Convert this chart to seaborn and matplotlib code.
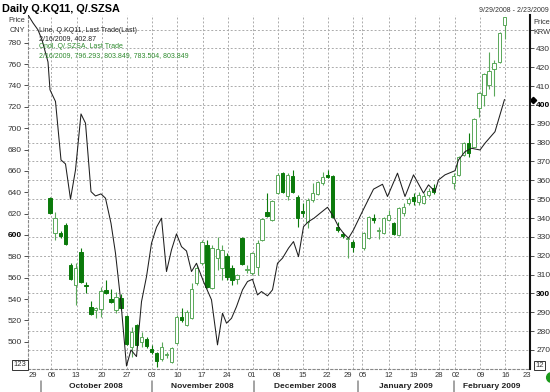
import matplotlib
matplotlib.use("Agg")
import matplotlib.pyplot as plt
import matplotlib.transforms as mtrans
from matplotlib.lines import Line2D
import numpy as np
import pandas as pd
import seaborn as sns

# ---------------- data ----------------
# x = trading-day index on the chart's time axis (0 = 29 Sep 2008)
# Q.KQ11 line (right axis, KRW)
line_day = [-1, 0.4, 1.4, 2.2, 3.4, 3.8, 4.9, 6.0, 6.9, 7.9, 8.9, 10.0, 10.9, 12.0, 12.9,
            14.0, 14.9, 16.0, 16.9, 18.0, 19.1, 20.0, 21.1, 22.1, 23.1, 24.1, 25.1, 26.1,
            27.1, 28.1, 29.1, 30.1, 31.1, 32.1, 33.1, 34.5, 36.1, 37.3, 38.3, 39.1, 40.1,
            41.1, 42.3, 43.3, 44.3, 45.3, 46.1, 47.3, 48.3, 49.3, 50.3, 51.5, 52.5, 53.5,
            54.5, 55.5, 56.6, 57.8, 59.3, 60.5, 61.5, 62.5, 63.5, 64.5, 66.1, 68.5, 70.3,
            71.3, 73.3, 74.8, 76.5, 78.5, 79.5, 80.8, 81.5, 82.8, 84.8, 85.5, 86.8, 88.1,
            89.8, 90.8, 92.8, 94.7]
line_val = [449.5, 443.5, 439.8, 434.5, 422.8, 408.0, 401.8, 370.8, 368.7, 350.0, 365.5,
            395.2, 390.3, 354.0, 351.7, 352.8, 350.5, 337.2, 321.3, 294.8, 261.5, 270.0,
            266.5, 295.6, 308.9, 326.6, 335.1, 339.9, 311.6, 323.1, 331.6, 324.8, 322.5,
            311.6, 316.0, 306.3, 296.6, 272.7, 289.5, 284.2, 286.8, 293.0, 301.9, 306.3,
            307.5, 299.2, 301.0, 298.7, 301.9, 316.0, 318.7, 324.0, 327.5, 319.5, 335.4,
            338.1, 339.9, 342.5, 345.7, 340.7, 335.4, 331.9, 329.3, 333.7, 342.5, 355.3,
            357.9, 351.4, 363.8, 351.4, 362.9, 353.2, 357.6, 354.0, 360.2, 362.9, 365.1,
            370.8, 375.2, 377.0, 376.1, 379.7, 385.8, 402.87]

# Q/.SZSA candles (left axis, CNY)
cndl_day = [3.8, 4.8, 5.9, 6.9, 7.9, 8.9, 10.0, 11.0, 12.0, 12.9, 14.0, 15.0, 16.0, 17.0,
            18.0, 19.1, 20.1, 21.1, 22.1, 23.1, 24.1, 25.1, 26.1, 27.1, 28.1, 29.1, 30.1,
            31.1, 32.1, 33.1, 34.2, 35.2, 36.2, 37.3, 38.2, 39.2, 40.2, 41.2, 42.2, 43.2,
            44.2, 45.3, 46.2, 47.2, 48.2, 49.3, 50.3, 51.3, 52.3, 53.3, 54.3, 55.3, 56.3,
            57.3, 58.3, 59.3, 60.3, 61.3, 62.3, 63.3, 64.3, 66.5, 67.5, 68.5, 69.5, 70.5,
            71.5, 72.5, 73.5, 74.5, 75.5, 76.5, 77.5, 78.5, 79.5, 80.5, 84.5, 85.5, 86.5,
            87.5, 88.6, 89.6, 90.6, 91.6, 92.6, 93.7, 94.7]
cndl_open = [634.4, 601.6, 602.2, 609.4, 571.9, 553.2, 584.4, 552.5, 532.9, 530.0, 530.4,
             548.5, 540.1, 529.8, 540.7, 524.2, 495.5, 515.7, 500.1, 502.3, 493.0, 489.2,
             483.6, 487.3, 481.4, 498.6, 523.5, 515.7, 522.0, 554.8, 573.5, 590.6, 550.4,
             578.2, 568.8, 580.3, 568.8, 558.5, 596.9, 567.5, 564.1, 570.3, 595.3, 621.3,
             614.0, 639.0, 657.8, 636.5, 655.2, 635.9, 622.8, 612.5, 632.8, 638.4, 648.4,
             656.5, 655.2, 607.8, 600.9, 595.8, 593.7, 587.5, 596.9, 615.5, 603.5, 601.6,
             614.0, 611.5, 600.0, 620.3, 629.7, 635.3, 631.2, 630.2, 637.5, 643.7, 648.4,
             656.2, 674.9, 685.9, 682.7, 718.6, 731.1, 740.4, 755.1, 762.3, 796.293]
cndl_high = [635.5, 621.8, 603.5, 611.0, 573.4, 573.5, 588.1, 556.3, 538.5, 532.9, 551.6,
             557.9, 549.2, 546.9, 545.0, 525.0, 514.1, 517.0, 509.5, 504.8, 497.0, 490.7,
             500.1, 490.0, 495.0, 525.0, 531.4, 529.5, 554.8, 572.0, 595.0, 595.3, 590.6,
             598.4, 590.6, 582.9, 571.9, 563.7, 597.9, 571.9, 584.0, 595.3, 615.5, 639.0,
             633.0, 657.8, 659.3, 657.8, 660.9, 637.5, 629.7, 634.4, 648.4, 650.5, 659.3,
             660.9, 656.2, 612.5, 602.5, 598.4, 595.3, 603.0, 617.6, 619.5, 607.8, 617.0,
             623.4, 612.5, 626.0, 629.5, 636.0, 639.0, 640.0, 639.0, 644.0, 648.0, 657.8,
             674.0, 687.5, 695.2, 709.5, 734.2, 752.0, 771.6, 763.9, 790.5, 803.849]
cndl_low = [620.0, 595.3, 597.0, 590.6, 557.4, 534.5, 555.3, 545.4, 525.1, 522.0, 523.5,
            544.8, 536.1, 526.7, 530.0, 497.0, 486.0, 496.0, 494.9, 494.0, 488.6, 476.7,
            482.3, 485.0, 479.7, 498.0, 518.8, 514.5, 521.1, 553.0, 572.0, 550.0, 549.0,
            567.2, 557.9, 557.9, 553.2, 553.8, 571.5, 564.1, 562.5, 562.5, 594.0, 617.1,
            613.0, 638.4, 638.9, 632.8, 639.5, 607.8, 617.1, 606.3, 631.2, 637.5, 646.8,
            653.1, 616.2, 603.1, 597.5, 578.2, 584.4, 586.0, 596.0, 611.0, 596.5, 601.0,
            614.0, 600.0, 599.0, 617.5, 628.0, 628.0, 628.0, 629.0, 636.0, 638.5, 643.0,
            655.0, 674.0, 673.3, 682.0, 710.8, 720.8, 736.4, 730.1, 761.5, 783.504]
cndl_close = [620.9, 615.6, 599.3, 591.6, 558.5, 568.8, 556.3, 552.0, 526.0, 531.4, 547.6,
              545.4, 537.0, 541.7, 531.4, 498.0, 509.5, 497.0, 504.8, 496.1, 490.4, 482.3,
              495.5, 487.9, 493.9, 523.5, 520.4, 528.2, 549.2, 568.8, 593.7, 551.6, 587.5,
              586.6, 586.0, 561.0, 557.9, 562.5, 572.8, 568.2, 582.9, 592.2, 614.7, 617.8,
              632.1, 656.2, 640.5, 656.2, 640.5, 615.6, 620.9, 632.8, 639.0, 649.9, 654.6,
              654.0, 617.1, 604.7, 599.1, 596.3, 589.0, 601.6, 616.6, 614.0, 604.2, 615.6,
              618.7, 600.9, 625.0, 626.5, 633.7, 632.1, 637.5, 636.5, 641.2, 640.5, 655.5,
              672.8, 686.4, 676.5, 708.3, 732.7, 750.7, 753.8, 761.3, 788.9, 803.849]

# axis labels
day_labels = ["29", "06", "13", "20", "27", "03", "10", "17", "24", "01", "08", "15",
              "22", "29", "05", "12", "19", "28", "02", "09", "16", "23"]
day_label_pos = [0.4, 4.2, 9.0, 14.2, 19.2, 24.2, 29.4, 34.2, 39.2, 44.2, 49.2, 54.4,
                 59.2, 63.4, 66.4, 71.6, 76.6, 81.6, 85.0, 90.0, 95.0, 99.2]
week_grid_pos = [4.0, 9.1, 14.1, 19.1, 24.1, 29.1, 34.3, 39.3, 44.3, 49.3, 54.3, 59.3,
                 64.3, 66.1, 71.5, 76.7, 81.5, 84.8, 89.8, 94.8]
month_names = ["October 2008", "November 2008", "December 2008", "January 2009",
               "February 2009"]
month_start = [1.9, 24.1, 44.5, 65.3, 84.6]
cny_ticks = [500, 520, 540, 560, 580, 600, 620, 640, 660, 680, 700, 720, 740, 760, 780]
krw_ticks = [270, 280, 290, 300, 310, 320, 330, 340, 350, 360, 370, 380, 390, 400,
             410, 420, 430, 440]
x_range = (-0.6, 99.8)
cny_range = (474.5, 806.0)
krw_range = (259.9, 447.7)
last_krw = 402.87

# ---------------- style ----------------
sns.set_theme(style="white")
plt.rcParams['font.family'] = ['Liberation Sans', 'DejaVu Sans']
plt.rcParams['axes.unicode_minus'] = False

FILLED = '#0b7a0b'
HOLLOW = '#5aa85a'
GRID = '#ababab'
TXT = '#333333'

W, H = 550, 392
fig = plt.figure(figsize=(W / 100, H / 100), dpi=100, facecolor='white')
Lp, Rp, Tp, Bp = 28, 530, 15, 369
rect = [Lp / W, 1 - Bp / H, (Rp - Lp) / W, (Bp - Tp) / H]

ax = fig.add_axes(rect)                              # KRW scale, grid
ax_c = fig.add_axes(rect, sharex=ax)                 # CNY scale, candles
ax_l = fig.add_axes(rect, sharex=ax, sharey=ax)      # KRW line on top
ax.set_zorder(0); ax_c.set_zorder(1); ax_l.set_zorder(2)
ax.set_facecolor('white')
ax_c.patch.set_visible(False)
ax_l.patch.set_visible(False)

# ---- candles ----
df = pd.DataFrame(dict(day=cndl_day, o=cndl_open, h=cndl_high, l=cndl_low, c=cndl_close))
df['up'] = df.c >= df.o
for up, sub in df.groupby('up'):
    col = HOLLOW if up else FILLED
    ax_c.vlines(sub.day, sub.l, sub.h, color=col, lw=0.8, zorder=1)
    bottoms = np.minimum(sub.o, sub.c)
    heights = np.maximum(np.abs(sub.c - sub.o), 1.0)
    ax_c.bar(sub.day, heights, bottom=bottoms, width=0.7,
             facecolor='white' if up else FILLED, edgecolor=col, linewidth=0.7, zorder=2)

# ---- line ----
sns.lineplot(x=line_day, y=line_val, ax=ax_l, color='#1e1e1e', linewidth=0.75,
             estimator=None, sort=False, legend=False)
ax_l.axis('off')

# ---- limits ----
ax.set_xlim(*x_range)
ax.set_ylim(*krw_range)
ax_c.set_ylim(*cny_range)

# ---- right axis (KRW) ----
ax.yaxis.tick_right()
ax.set_yticks(krw_ticks)
ax.set_yticklabels([str(t) if t != 440 else '' for t in krw_ticks])
ax.tick_params(axis='y', right=True, left=False, labelright=True, labelleft=False,
               length=3, width=0.6, pad=1.5, labelsize=6, colors=TXT, direction='out')
for lab in ax.get_yticklabels():
    if lab.get_text() in ('400', '300'):
        lab.set_fontweight('bold'); lab.set_color('black')
ax.grid(axis='y', color=GRID, linestyle=(0, (2, 2)), linewidth=0.7)
ax.grid(axis='x', visible=False)
for g in week_grid_pos:
    ax.axvline(g, color=GRID, linestyle=(0, (2, 2)), linewidth=0.7, zorder=0.5)
ax.set_ylabel(''); ax.set_xlabel('')

# ---- left axis (CNY) ----
ax_c.yaxis.tick_left()
ax_c.set_yticks(cny_ticks)
ax_c.set_yticklabels([str(t) for t in cny_ticks])
ax_c.tick_params(axis='y', left=True, right=False, labelleft=True, labelright=False,
                 length=3, width=0.6, pad=1.5, labelsize=6, colors=TXT, direction='out')
for lab in ax_c.get_yticklabels():
    if lab.get_text() == '600':
        lab.set_fontweight('bold'); lab.set_color('black')
ax_c.tick_params(axis='x', bottom=False, labelbottom=False)
for s in ax_c.spines.values():
    s.set_visible(False)
ax_c.grid(False)

# ---- spines ----
ax.spines['top'].set_visible(False)
for side in ('left', 'bottom'):
    ax.spines[side].set_color('#888888')
    ax.spines[side].set_linestyle((0, (2, 2)))
    ax.spines[side].set_linewidth(0.8)
ax.spines['right'].set_color('#111111')
ax.spines['right'].set_linewidth(1.5)

# ---- x axis labels ----
ax.set_xticks(day_label_pos)
ax.set_xticklabels(day_labels)
ax.tick_params(axis='x', length=0, pad=2.5, labelsize=5.5, colors=TXT)
bt = mtrans.blended_transform_factory(ax.transData, ax.transAxes)
bounds = month_start + [x_range[1]]
for i, name in enumerate(month_names):
    ax.text((bounds[i] + bounds[i + 1]) / 2, -0.05, name, transform=bt, ha='center',
            va='center', fontsize=6, fontweight='bold', color='#222222')
for m in month_start:
    ax.plot([m, m], [-0.033, -0.066], transform=bt, clip_on=False, color='#8a8a8a', lw=1.1)

# last value marker on the right spine
rt = mtrans.blended_transform_factory(ax.transAxes, ax.transData)
ax.plot([1.006], [last_krw], transform=rt, marker='D', ms=3.2, color='black', clip_on=False)

# ---- texts ----
def fx(px):
    return px / W

def fy(py):
    return 1 - py / H

fig.text(fx(2), fy(9), "Daily Q.KQ11, Q/.SZSA", fontsize=7.8, fontweight='bold',
         ha='left', va='center', color='black')
fig.text(fx(549), fy(10), "9/29/2008 - 2/23/2009", fontsize=5.0, ha='right', va='center',
         color=TXT)
fig.text(fx(25), fy(20), "Price", fontsize=5.3, ha='right', va='center', color=TXT)
fig.text(fx(25), fy(30), "CNY", fontsize=5.3, ha='right', va='center', color=TXT)
fig.text(fx(533), fy(22), "Price", fontsize=5.3, ha='left', va='center', color=TXT)
fig.text(fx(533), fy(32), "KRW", fontsize=5.3, ha='left', va='center', color=TXT)

leg = [("Line, Q.KQ11, Last Trade(Last)", '#222222', 30.0),
       ("2/16/2009, 402.87", '#222222', 38.4),
       ("Cndl, Q/.SZSA, Last Trade", '#2e8b2e', 46.8),
       ("2/16/2009, 796.293, 803.849, 783.504, 803.849", '#2e8b2e', 55.2)]
for s, c, y in leg:
    fig.text(fx(38.8), fy(y), s, fontsize=5.0, color=c, ha='left', va='center')

box = dict(boxstyle='square,pad=0.15', fc='white', ec='#333333', lw=0.7)
fig.text(fx(20), fy(365), "123", fontsize=5.5, ha='center', va='center', color=TXT, bbox=box)
fig.text(fx(539.5), fy(365.5), "12", fontsize=5.5, ha='center', va='center', color=TXT,
         bbox=box)
fig.add_artist(Line2D([fx(551)], [fy(377)], marker='o', ms=7, color='#1a9a1a',
                      transform=fig.transFigure))

fig.savefig('out.png', dpi=100, facecolor='white')
